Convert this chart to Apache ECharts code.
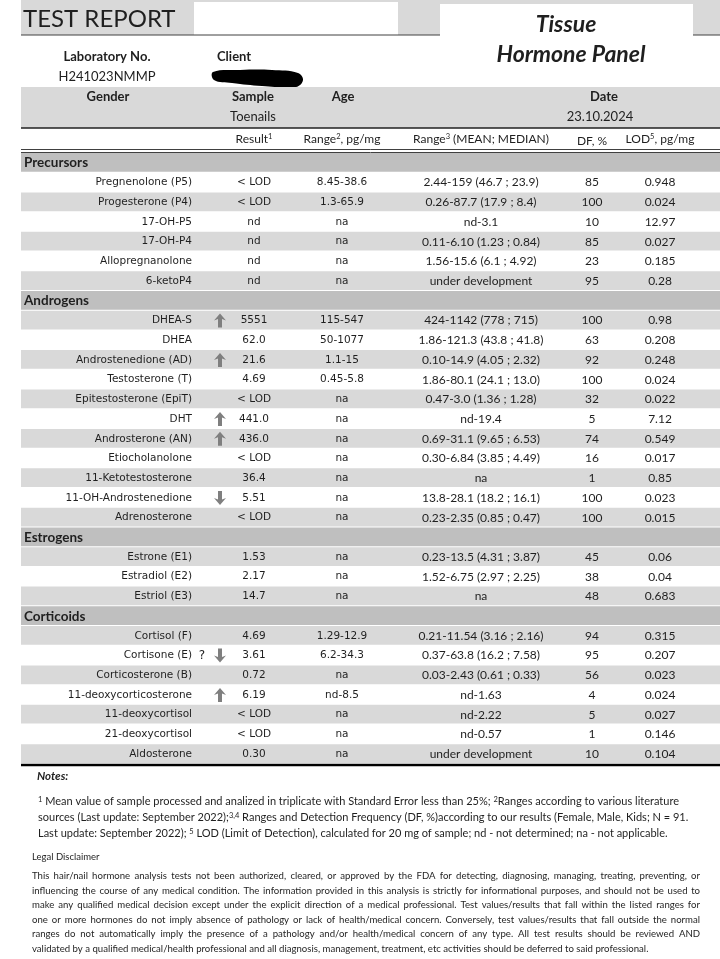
<!DOCTYPE html>
<html>
<head>
<meta charset="utf-8">
<title>Tissue Hormone Panel</title>
<script src="https://cdn.jsdelivr.net/npm/echarts@6/dist/echarts.min.js"></script>
<style>
  html, body { margin: 0; padding: 0; background: #fff; }
  #report { width: 720px; height: 959px; }
</style>
</head>
<body>
<div id="report"></div>
<script>
/* ---- data ---- */
const sectionNames = ['Precursors', 'Androgens', 'Estrogens', 'Corticoids']
const sectionSizes = [6, 11, 3, 7]

const hormones = [
  'Pregnenolone (P5)', 'Progesterone (P4)', '17-OH-P5', '17-OH-P4', 'Allopregnanolone', '6-ketoP4',
  'DHEA-S', 'DHEA', 'Androstenedione (AD)', 'Testosterone (T)', 'Epitestosterone (EpiT)', 'DHT',
  'Androsterone (AN)', 'Etiocholanolone', '11-Ketotestosterone', '11-OH-Androstenedione', 'Adrenosterone',
  'Estrone (E1)', 'Estradiol (E2)', 'Estriol (E3)',
  'Cortisol (F)', 'Cortisone (E)', 'Corticosterone (B)', '11-deoxycorticosterone', '11-deoxycortisol',
  '21-deoxycortisol', 'Aldosterone'
]
const results = [
  '< LOD', '< LOD', 'nd', 'nd', 'nd', 'nd',
  '5551', '62.0', '21.6', '4.69', '< LOD', '441.0', '436.0', '< LOD', '36.4', '5.51', '< LOD',
  '1.53', '2.17', '14.7',
  '4.69', '3.61', '0.72', '6.19', '< LOD', '< LOD', '0.30'
]
// up / down flag next to the result
const flags = [
  '', '', '', '', '', '',
  'up', '', 'up', '', '', 'up', 'up', '', '', 'down', '',
  '', '', '',
  '', 'down', '', 'up', '', '', ''
]
const remarks = [
  '', '', '', '', '', '',
  '', '', '', '', '', '', '', '', '', '', '',
  '', '', '',
  '', '?', '', '', '', '', ''
]
const literatureRanges = [
  '8.45-38.6', '1.3-65.9', 'na', 'na', 'na', 'na',
  '115-547', '50-1077', '1.1-15', '0.45-5.8', 'na', 'na', 'na', 'na', 'na', 'na', 'na',
  'na', 'na', 'na',
  '1.29-12.9', '6.2-34.3', 'na', 'nd-8.5', 'na', 'na', 'na'
]
const ownRanges = [
  '2.44-159 (46.7 ; 23.9)', '0.26-87.7 (17.9 ; 8.4)', 'nd-3.1', '0.11-6.10 (1.23 ; 0.84)',
  '1.56-15.6 (6.1 ; 4.92)', 'under development',
  '424-1142 (778 ; 715)', '1.86-121.3 (43.8 ; 41.8)', '0.10-14.9 (4.05 ; 2.32)', '1.86-80.1 (24.1 ; 13.0)',
  '0.47-3.0 (1.36 ; 1.28)', 'nd-19.4', '0.69-31.1 (9.65 ; 6.53)', '0.30-6.84 (3.85 ; 4.49)', 'na',
  '13.8-28.1 (18.2 ; 16.1)', '0.23-2.35 (0.85 ; 0.47)',
  '0.23-13.5 (4.31 ; 3.87)', '1.52-6.75 (2.97 ; 2.25)', 'na',
  '0.21-11.54 (3.16 ; 2.16)', '0.37-63.8 (16.2 ; 7.58)', '0.03-2.43 (0.61 ; 0.33)', 'nd-1.63',
  'nd-2.22', 'nd-0.57', 'under development'
]
const dfPercent = [
  '85', '100', '10', '85', '23', '95',
  '100', '63', '92', '100', '32', '5', '74', '16', '1', '100', '100',
  '45', '38', '48',
  '94', '95', '56', '4', '5', '1', '10'
]
const lodValues = [
  '0.948', '0.024', '12.97', '0.027', '0.185', '0.28',
  '0.98', '0.208', '0.248', '0.024', '0.022', '7.12', '0.549', '0.017', '0.85', '0.023', '0.015',
  '0.06', '0.04', '0.683',
  '0.315', '0.207', '0.023', '0.024', '0.027', '0.146', '0.104'
]

const notesLines = [
  '{s|1} Mean value of sample processed and analized in triplicate with Standard Error less than 25%; {s|2}Ranges according to various literature',
  'sources (Last update: September 2022);{s|3,4} Ranges and Detection Frequency (DF, %)according to our results (Female, Male, Kids; N = 91.',
  'Last update: September 2022); {s|5} LOD (Limit of Detection), calculated for 20 mg of sample; nd - not determined; na - not applicable.'
]
const disclaimerLines = [
  'This hair/nail hormone analysis tests not been authorized, cleared, or approved by the FDA for detecting, diagnosing, managing, treating, preventing, or',
  'influencing the course of any medical condition. The information provided in this analysis is strictly for informational purposes, and should not be used to',
  'make any qualified medical decision except under the explicit direction of a medical professional. Test values/results that fall within the listed ranges for',
  'one or more hormones do not imply absence of pathology or lack of health/medical concern. Conversely, test values/results that fall outside the normal',
  'ranges do not automatically imply the presence of a pathology and/or health/medical concern of any type. All test results should be reviewed AND',
  'validated by a qualified medical/health professional and all diagnosis, management, treatment, etc activities should be deferred to said professional.'
]

/* ---- layout ---- */
const CAL = 'Lato, "Open Sans", sans-serif'
const GOTH = '"DejaVu Sans", sans-serif'
const INK = '#1f1f1f'
// x positions of the table columns (in px, x axis runs 0..720)
const col = { band: 21, name: 192, remark: 202, flag: 220, result: 254, lit: 342, own: 481, df: 592, lod: 660 }

// table rows: section header followed by its hormones
const rows = []
let k = 0
sectionNames.forEach((s, si) => {
  rows.push({ header: true, name: s })
  for (let j = 0; j < sectionSizes[si]; j++, k++) {
    rows.push({
      header: false,
      name: hormones[k],
      result: results[k],
      flag: flags[k],
      remark: remarks[k],
      lit: literatureRanges[k],
      own: ownRanges[k],
      df: dfPercent[k],
      lod: lodValues[k]
    })
  }
})

function txt(text, x, y, font, align, extra) {
  return Object.assign({
    type: 'text',
    x: x,
    y: y,
    style: {
      text: text,
      font: font,
      fill: INK,
      textAlign: align || 'left',
      align: align || 'left',
      textVerticalAlign: 'middle',
      verticalAlign: 'middle'
    }
  }, extra || {})
}

function arrow(x, y, dir) {
  const s = dir === 'up' ? 1 : -1
  const pts = [[0, -7], [6, 0], [2, -1.5], [2, 7], [-2, 7], [-2, -1.5], [-6, 0]]
  return {
    type: 'polygon',
    shape: { points: pts.map(p => [x + p[0], y + p[1] * s]) },
    style: { fill: '#7f7f7f' }
  }
}

/* 每一行：背景条 + 各列文字 */
function renderRow(params, api) {
  const i = api.value(1)
  const row = rows[i]
  const c = api.coord([col.band, i])
  const cy = c[1]
  const h = api.size([0, 1])[1]
  const right = api.coord([720, i])[0]
  const xOf = key => api.coord([col[key], i])[0]
  let fill = '#ffffff'
  if (row.header) fill = '#bfbfbf'
  else if (i % 2 === 0) fill = '#d9d9d9'
  const children = [{
    type: 'rect',
    shape: { x: c[0], y: cy - h / 2, width: right - c[0], height: h - 1 },
    style: { fill: fill }
  }]
  if (row.header) {
    children.push(txt(row.name, c[0] + 3, cy, 'bold 13.5px ' + CAL))
    return { type: 'group', children: children }
  }
  children.push(txt(row.name, xOf('name'), cy, '10.5px ' + GOTH, 'right', {}))
  if (row.remark) children.push(txt(row.remark, xOf('remark'), cy, '12px ' + GOTH, 'center'))
  if (row.flag) children.push(arrow(xOf('flag'), cy, row.flag))
  children.push(txt(row.result, xOf('result'), cy, '10.5px ' + GOTH, 'center'))
  children.push(txt(row.lit, xOf('lit'), cy, '10.5px ' + GOTH, 'center'))
  children.push(txt(row.own, xOf('own'), cy, '12px ' + CAL, 'center'))
  children.push(txt(row.df, xOf('df'), cy, '12px ' + CAL, 'center'))
  children.push(txt(row.lod, xOf('lod'), cy, '12px ' + CAL, 'center'))
  return { type: 'group', children: children }
}

/* 两端对齐的段落行 */
const measure = document.createElement('canvas').getContext('2d')
function justifiedLine(line, y, x0, x1, font) {
  measure.font = font
  const words = line.split(' ')
  const widths = words.map(w => measure.measureText(w).width)
  const total = widths.reduce((a, b) => a + b, 0)
  const gap = (x1 - x0 - total) / (words.length - 1)
  let x = x0
  return words.map((w, n) => {
    const el = txt(w, x, y, font)
    x += widths[n] + gap
    return el
  })
}

const supRich = {
  s: { fontSize: 7.5, fontFamily: 'Lato', verticalAlign: 'top', lineHeight: 9, fill: INK }
}
function richTxt(text, x, y, font, align) {
  const el = txt(text, x, y, font, align)
  el.style.rich = supRich
  return el
}

/* 页眉：标题栏、信息栏、列标题、线条 */
const graphics = [
  { type: 'rect', shape: { x: 21, y: 0, width: 699, height: 35 }, style: { fill: '#d9d9d9' } },
  { type: 'rect', shape: { x: 194, y: 2, width: 204, height: 33 }, style: { fill: '#ffffff' } },
  { type: 'rect', shape: { x: 440, y: 4, width: 253, height: 40 }, style: { fill: '#ffffff' } },
  { type: 'line', shape: { x1: 21, y1: 35, x2: 440, y2: 35 }, style: { stroke: '#404040', lineWidth: 1 } },
  { type: 'line', shape: { x1: 693, y1: 35, x2: 720, y2: 35 }, style: { stroke: '#404040', lineWidth: 1 } },
  txt('TEST REPORT', 23, 19, '24px ' + CAL),
  txt('Tissue', 566, 25, 'italic bold 23px ' + CAL, 'center'),
  txt('Hormone Panel', 571, 55, 'italic bold 23px ' + CAL, 'center'),
  txt('Laboratory No.', 107, 57, 'bold 13px ' + CAL, 'center'),
  txt('H241023NMMP', 107, 77, '13px ' + CAL, 'center'),
  txt('Client', 217, 57, 'bold 13px ' + CAL),
  {
    type: 'polygon',
    shape: {
      smooth: 0.4,
      points: [[213, 72], [240, 70], [272, 70], [298, 73], [303, 80], [296, 87], [262, 86], [232, 83], [214, 80]]
    },
    style: { fill: '#000000' }
  },
  { type: 'rect', shape: { x: 21, y: 87, width: 699, height: 41 }, style: { fill: '#d9d9d9' } },
  { type: 'line', shape: { x1: 21, y1: 128, x2: 720, y2: 128 }, style: { stroke: '#202020', lineWidth: 1.5 } },
  txt('Gender', 108, 97, 'bold 13px ' + CAL, 'center'),
  txt('Sample', 253, 97, 'bold 13px ' + CAL, 'center'),
  txt('Toenails', 253, 117, '13px ' + CAL, 'center'),
  txt('Age', 343, 97, 'bold 13px ' + CAL, 'center'),
  txt('Date', 604, 97, 'bold 13px ' + CAL, 'center'),
  txt('23.10.2024', 600, 117, '13px ' + CAL, 'center'),
  richTxt('Result{s|1}', 254, 139, '12px ' + CAL, 'center'),
  richTxt('Range{s|2}, pg/mg', 342, 139, '12px ' + CAL, 'center'),
  richTxt('Range{s|3} (MEAN; MEDIAN)', 481, 139, '12px ' + CAL, 'center'),
  txt('DF, %', 592, 141, '12px ' + CAL, 'center'),
  richTxt('LOD{s|5}, pg/mg', 660, 139, '12px ' + CAL, 'center'),
  { type: 'line', shape: { x1: 21, y1: 149.5, x2: 720, y2: 149.5 }, style: { stroke: '#404040', lineWidth: 1 } },
  { type: 'line', shape: { x1: 21, y1: 152.5, x2: 720, y2: 152.5 }, style: { stroke: '#404040', lineWidth: 1 } },
  { type: 'line', shape: { x1: 21, y1: 765, x2: 720, y2: 765 }, style: { stroke: '#000000', lineWidth: 2.5 } },
  txt('Notes:', 37, 776, 'italic bold 11.5px ' + CAL),
  txt('Legal Disclaimer', 32, 857, '9.5px ' + CAL)
]
notesLines.forEach((line, n) => {
  graphics.push(richTxt(line, 38, 801 + n * 16, '11px ' + CAL))
})
disclaimerLines.forEach((line, n) => {
  const y = 876 + n * 14.6
  const font = '9.6px ' + CAL
  if (n < disclaimerLines.length - 1) graphics.push(...justifiedLine(line, y, 32, 700, font))
  else graphics.push(txt(line, 32, y, font))
})

const chart = echarts.init(document.getElementById('report'), null, { renderer: 'canvas' })
chart.setOption({
  animation: false,
  backgroundColor: '#ffffff',
  grid: { left: 0, right: 0, top: 153, bottom: 195 },
  xAxis: { type: 'value', min: 0, max: 720, show: false },
  yAxis: {
    type: 'category',
    inverse: true,
    show: false,
    data: rows.map(r => r.name)
  },
  series: [{
    type: 'custom',
    renderItem: renderRow,
    clip: false,
    data: rows.map((r, i) => [0, i])
  }],
  graphic: graphics
})
</script>
</body>
</html>
